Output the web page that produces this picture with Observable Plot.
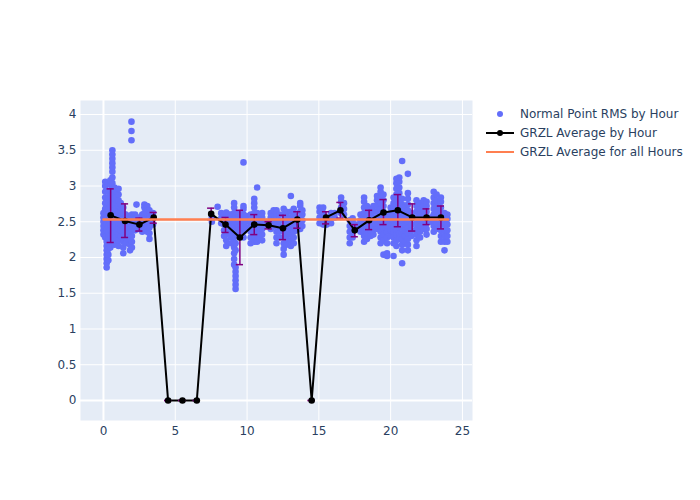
<!DOCTYPE html>
<html>
<head>
<meta charset="utf-8">
<script src="https://cdn.jsdelivr.net/npm/d3@7"></script>
<script src="https://cdn.jsdelivr.net/npm/@observablehq/plot@0.6"></script>
<style>
  body { margin: 0; background: white; }
</style>
</head>
<body>
<div id="chart"></div>
<script>
// ---- Data ----
// Passes of normal-point RMS: hour of day and the RMS values observed in that pass
const passHour = [
  0.0, 0.12, 0.22, 0.34, 0.48, 0.62, 0.76, 0.9, 1.05, 1.2, 1.38, 1.55, 1.72, 1.85, 1.95, 1.98,
  2.2, 2.3, 2.45, 2.7, 2.85, 3.05, 3.2, 3.45,
  7.55, 7.95, 8.2, 8.4, 8.55, 8.75, 8.9, 9.1, 9.2, 9.35, 9.55, 9.75, 9.95,
  10.25, 10.5, 10.7, 10.85, 11.05, 11.35, 11.65, 11.85,
  12.05, 12.25, 12.55, 12.75, 13.05, 13.25, 13.45, 13.7, 13.85,
  15.05, 15.3, 15.55, 15.85, 16.1, 16.55, 16.75,
  17.15, 17.35, 17.65, 17.9, 18.15, 18.35, 18.6, 18.8,
  19.05, 19.3, 19.5, 19.75, 20.0, 20.2, 20.4, 20.6, 20.8,
  21.0, 21.2, 21.45, 21.8, 22.05, 22.3, 22.5, 22.8,
  23.0, 23.2, 23.5, 23.75, 23.95
];
const passRms = [
  [2.32,2.38,2.44,2.5,2.56,2.62],
  [2.28,2.36,2.44,2.52,2.6,2.68,2.76,2.84,2.92,3.0,3.06],
  [1.86,1.92,1.98,2.04,2.1,2.16,2.22,2.3,2.38,2.46,2.54,2.62,2.7,2.78],
  [1.96,2.04,2.12,2.2,2.28,2.36,2.44,2.52,2.6,2.68,2.76,2.84,2.92],
  [2.14,2.22,2.3,2.38,2.46,2.54,2.62,2.7,2.78,2.86,2.94,3.02,3.08],
  [2.24,2.32,2.4,2.48,2.56,2.64,2.72,2.8,2.88,2.96,3.04,3.12,3.2,3.26,3.32,3.38,3.44,3.5],
  [2.18,2.26,2.34,2.42,2.5,2.58,2.66,2.74,2.82,2.9,2.98],
  [2.2,2.28,2.36,2.44,2.52,2.6,2.68,2.76,2.84,2.92],
  [2.16,2.24,2.32,2.4,2.48,2.56,2.64,2.72,2.8,2.88,2.96],
  [2.3,2.38,2.46,2.54,2.62,2.7,2.76],
  [2.06,2.14,2.22,2.3,2.38,2.46,2.54,2.62,2.7],
  [2.2,2.28,2.36,2.44,2.52,2.6],
  [2.26,2.34,2.42,2.5,2.58],
  [2.1,2.18,2.26,2.34,2.42,2.5],
  [3.64,3.77,3.9],
  [2.14,2.22,2.3,2.38,2.46,2.54,2.6],
  [2.38,2.46,2.54,2.6],
  [2.74],
  [2.4,2.48,2.56],
  [2.36,2.44,2.52,2.6],
  [2.38,2.46,2.54,2.62,2.7,2.74],
  [2.36,2.44,2.52,2.6,2.68,2.72],
  [2.26,2.34,2.42,2.5,2.58,2.66],
  [2.46,2.54,2.62],
  [2.5,2.56],
  [2.71],
  [2.48,2.55,2.62],
  [2.3,2.38,2.46,2.54,2.6],
  [2.16,2.24,2.32,2.4,2.48,2.56,2.63],
  [2.36,2.44,2.52,2.6],
  [2.2,2.28,2.36,2.44,2.52,2.6],
  [1.9,1.98,2.06,2.14,2.22,2.3,2.38,2.46,2.54,2.62,2.7,2.76],
  [1.56,1.62,1.68,1.74,1.8,1.86,2.1,2.2,2.3,2.4,2.5,2.58],
  [2.3,2.38,2.46,2.54,2.62],
  [2.38,2.46,2.54,2.6],
  [2.28,2.36,2.44,2.52,2.6,2.68,2.72,3.33],
  [2.42,2.5,2.58],
  [2.2,2.28,2.36,2.44,2.52,2.6],
  [2.22,2.3,2.38,2.46,2.54,2.62,2.7,2.76,2.82],
  [2.22,2.3,2.38,2.46,2.54,2.62,2.98],
  [2.26,2.34,2.42,2.5,2.58],
  [2.24,2.32,2.4,2.48,2.56,2.62],
  [2.44,2.5],
  [2.4,2.48,2.56,2.62],
  [2.44,2.52,2.6,2.66],
  [2.2,2.28,2.36,2.44,2.52,2.6,2.66],
  [2.28,2.36,2.44,2.52,2.6],
  [2.04,2.12,2.2,2.28,2.36,2.44,2.52,2.6,2.68],
  [2.18,2.26,2.34,2.42,2.5,2.58,2.64],
  [2.16,2.24,2.32,2.4,2.48,2.56,2.64,2.86],
  [2.2,2.28,2.36,2.44,2.52,2.6,2.68],
  [2.38,2.46,2.54],
  [2.4,2.48,2.56,2.64,2.72,2.76],
  [2.44,2.52,2.6,2.66],
  [2.48,2.56,2.64,2.7],
  [2.46,2.54,2.62,2.7],
  [2.46,2.52],
  [2.48,2.56,2.62],
  [2.56,2.62],
  [2.62,2.7,2.78,2.84],
  [2.6,2.68,2.76],
  [2.2,2.28,2.36,2.44,2.52],
  [2.28,2.36,2.44,2.5,2.55],
  [2.4,2.46],
  [2.36,2.44,2.52,2.6],
  [2.22,2.3,2.38,2.46,2.54,2.62,2.7,2.78,2.84],
  [2.26,2.34,2.42,2.5,2.58,2.66,2.72],
  [2.3,2.38,2.46,2.54,2.62,2.68],
  [2.32,2.4,2.48,2.56,2.64,2.72],
  [2.4,2.48,2.56,2.64,2.72,2.8,2.86],
  [2.2,2.28,2.36,2.44,2.52,2.6,2.68,2.76,2.84,2.92,2.98],
  [2.04,2.24,2.32,2.4,2.48,2.56,2.64,2.72,2.8,2.88],
  [2.02,2.06,2.2,2.28,2.36,2.44,2.52,2.6],
  [2.3,2.38,2.46,2.54,2.62,2.7],
  [2.02,2.2,2.28,2.36,2.44,2.52,2.6,2.68,2.76,2.84],
  [2.16,2.24,2.32,2.4,2.48,2.56,2.64,2.72,2.8,2.88,2.96,3.04,3.1],
  [2.26,2.34,2.42,2.5,2.58,2.66,2.74,2.82,2.9,2.98,3.06,3.12],
  [1.92,2.1,2.18,2.26,2.34,2.42,2.5,2.58,2.66,2.74,2.82,3.35],
  [2.22,2.3,2.38,2.46,2.54,2.62,2.7],
  [2.1,2.18,2.26,2.34,2.42,2.5,2.58,2.66,2.74,2.82,2.9,3.17],
  [2.3,2.38,2.46,2.54,2.62],
  [2.16,2.24,2.32,2.4,2.48,2.56,2.64,2.72,2.8],
  [2.28,2.36,2.44,2.52,2.6,2.68,2.76],
  [2.4,2.48,2.56,2.64,2.72,2.8],
  [2.32,2.4,2.48,2.56,2.64,2.72,2.78],
  [2.5,2.56],
  [2.36,2.44,2.52,2.6,2.68,2.76,2.84,2.92],
  [2.4,2.48,2.56,2.64,2.72,2.8,2.88],
  [2.22,2.3,2.38,2.46,2.54,2.62,2.7,2.78,2.84],
  [2.1,2.22,2.3,2.38,2.46,2.54,2.62],
  [2.22,2.3,2.38,2.46,2.54,2.6]
];

// Hourly GRZL averages with error bars (low / high ends)
const avgHour = [0.5,1.5,2.5,3.5,4.5,5.5,6.5,7.5,8.5,9.5,10.5,11.5,12.5,13.5,14.5,15.5,16.5,17.5,18.5,19.5,20.5,21.5,22.5,23.5];
const avgRms  = [2.59,2.51,2.46,2.56,0,0,0,2.61,2.46,2.28,2.46,2.45,2.41,2.53,0,2.56,2.66,2.38,2.52,2.63,2.66,2.56,2.56,2.56];
const errHigh = [2.96,2.75,2.55,2.63,0,0,0,2.69,2.56,2.66,2.60,2.50,2.59,2.64,0,2.64,2.77,2.46,2.66,2.81,2.88,2.75,2.68,2.72];
const errLow  = [2.21,2.28,2.37,2.48,0,0,0,2.53,2.35,1.90,2.32,2.40,2.25,2.41,0,2.47,2.55,2.29,2.39,2.46,2.43,2.37,2.46,2.40];

// Overall average across all hours
const overallHours = [0, 24];
const overallAvg = 2.53;

const xTicks = [0, 5, 10, 15, 20, 25];
const yTicks = [0, 0.5, 1, 1.5, 2, 2.5, 3, 3.5, 4];

const legendLabels = ["Normal Point RMS by Hour", "GRZL Average by Hour", "GRZL Average for all Hours"];

// ---- Build tables ----
const points = [];
passHour.forEach((h, i) => passRms[i].forEach(v => points.push({hour: h, rms: v})));
const avg = avgHour.map((h, i) => ({hour: h, rms: avgRms[i], lo: errLow[i], hi: errHigh[i]}));
const overall = overallHours.map(h => ({hour: h, rms: overallAvg}));

const capHalf = 0.25;
const textColor = "#2a3f5f";
const font = "'DejaVu Sans', sans-serif";

const chart = Plot.plot({
  width: 700,
  height: 500,
  marginLeft: 80,
  marginRight: 228,
  marginTop: 100,
  marginBottom: 80,
  style: {fontFamily: font, fontSize: "12px", color: textColor, background: "white", overflow: "visible"},
  x: {domain: [-1.6, 25.7], label: null},
  y: {domain: [-0.28, 4.196], label: null},
  marks: [
    Plot.frame({fill: "#E5ECF6", stroke: null}),
    Plot.gridX(xTicks, {stroke: "white", strokeOpacity: 1, strokeWidth: 1}),
    Plot.gridY(yTicks, {stroke: "white", strokeOpacity: 1, strokeWidth: 1}),
    Plot.ruleX([0], {stroke: "white", strokeWidth: 2}),
    Plot.ruleY([0], {stroke: "white", strokeWidth: 2}),
    Plot.axisX({ticks: xTicks, tickSize: 0, tickPadding: 6, tickFormat: d3.format("~g"), fontSize: 12, label: null}),
    Plot.axisY({ticks: yTicks, tickSize: 0, tickPadding: 4, tickFormat: d3.format("~g"), fontSize: 12, label: null}),
    Plot.dot(points, {x: "hour", y: "rms", r: 3.3, fill: "#636EFA", stroke: null}),
    Plot.line(avg, {x: "hour", y: "rms", stroke: "black", strokeWidth: 2}),
    Plot.ruleX(avg, {x: "hour", y1: "lo", y2: "hi", stroke: "purple", strokeWidth: 1.5}),
    Plot.ruleY(avg, {y: "hi", x1: d => d.hour - capHalf, x2: d => d.hour + capHalf, stroke: "purple", strokeWidth: 1.5}),
    Plot.ruleY(avg, {y: "lo", x1: d => d.hour - capHalf, x2: d => d.hour + capHalf, stroke: "purple", strokeWidth: 1.5}),
    Plot.dot(avg, {x: "hour", y: "rms", r: 3.3, fill: "black"}),
    Plot.line(overall, {x: "hour", y: "rms", stroke: "#FF7F50", strokeWidth: 2.5})
  ]
});

// ---- Legend (inside SVG, to the right of the plot) ----
const svg = d3.select(chart);
const lg = svg.append("g")
  .attr("font-family", font)
  .attr("font-size", 12)
  .attr("text-anchor", "start")
  .attr("fill", textColor);
const rows = [114, 133, 152];
lg.append("circle").attr("cx", 500).attr("cy", rows[0]).attr("r", 3).attr("fill", "#636EFA");
lg.append("line").attr("x1", 486).attr("x2", 514).attr("y1", rows[1]).attr("y2", rows[1]).attr("stroke", "black").attr("stroke-width", 2);
lg.append("circle").attr("cx", 500).attr("cy", rows[1]).attr("r", 3).attr("fill", "black");
lg.append("line").attr("x1", 486).attr("x2", 514).attr("y1", rows[2]).attr("y2", rows[2]).attr("stroke", "#FF7F50").attr("stroke-width", 2);
legendLabels.forEach((t, i) => {
  lg.append("text").attr("x", 520).attr("y", rows[i]).attr("dy", "0.35em").attr("text-anchor", "start").text(t);
});

document.getElementById("chart").appendChild(chart);
</script>
</body>
</html>
